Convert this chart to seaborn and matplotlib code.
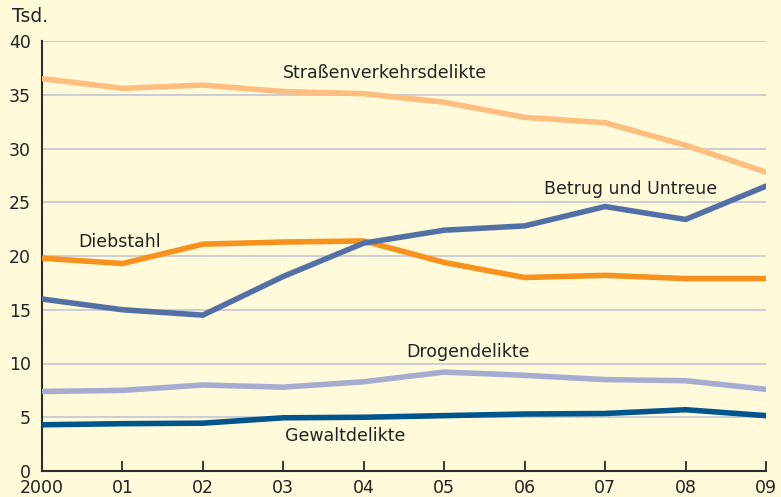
import matplotlib
matplotlib.use("Agg")
import matplotlib.pyplot as plt
import seaborn as sns
import pandas as pd

years = [0, 1, 2, 3, 4, 5, 6, 7, 8, 9]
year_labels = ["2000", "01", "02", "03", "04", "05", "06", "07", "08", "09"]
strassen = [36.5, 35.6, 35.9, 35.3, 35.1, 34.3, 32.9, 32.4, 30.3, 27.8]
betrug = [16.0, 15.0, 14.5, 18.1, 21.2, 22.4, 22.8, 24.6, 23.4, 26.5]
diebstahl = [19.8, 19.3, 21.1, 21.3, 21.4, 19.4, 18.0, 18.2, 17.9, 17.9]
drogen = [7.4, 7.5, 8.0, 7.8, 8.3, 9.2, 8.9, 8.5, 8.4, 7.6]
gewalt = [4.3, 4.4, 4.45, 4.95, 5.0, 5.15, 5.3, 5.35, 5.7, 5.15]

series = {
    "Straßenverkehrsdelikte": strassen,
    "Diebstahl": diebstahl,
    "Betrug und Untreue": betrug,
    "Drogendelikte": drogen,
    "Gewaltdelikte": gewalt,
}
colors = {
    "Straßenverkehrsdelikte": "#FFBE80",
    "Diebstahl": "#F7921E",
    "Betrug und Untreue": "#5270A5",
    "Drogendelikte": "#A6ACCF",
    "Gewaltdelikte": "#00568C",
}

rows = []
for name, vals in series.items():
    for x, v in zip(years, vals):
        rows.append({"year": x, "value": v, "series": name})
df = pd.DataFrame(rows)

sns.set_style("white")
plt.rcParams["font.family"] = ["DejaVu Sans"]
bg = "#FFFBDA"
fig = plt.figure(figsize=(7.81, 4.97), dpi=100, facecolor=bg)
ax = fig.add_axes([42 / 781, 26 / 497, (766 - 42) / 781, (471 - 41) / 497])
ax.set_facecolor(bg)

for y in range(5, 45, 5):
    ax.axhline(y, color="#C3C6D2", lw=1.2, zorder=0)

sns.lineplot(data=df, x="year", y="value", hue="series", palette=colors,
             linewidth=4, legend=False, ax=ax, zorder=3)

ax.set_xlim(0, 9)
ax.set_ylim(0, 40)
ax.set_xticks(years)
ax.set_xticklabels(year_labels)
ax.set_yticks(range(0, 45, 5))
ax.set_xlabel("")
ax.set_ylabel("")
for s in ["top", "right"]:
    ax.spines[s].set_visible(False)
for s in ["left", "bottom"]:
    ax.spines[s].set_color("#2b2b2b")
    ax.spines[s].set_linewidth(1.5)
ax.tick_params(axis="x", direction="in", length=7, width=1.3, color="#2b2b2b",
               labelsize=12.5, labelcolor="#222222", pad=6, bottom=True)
ax.tick_params(axis="y", length=0, labelsize=12.5, labelcolor="#222222", pad=8)

fs = 12.5
ax.text(4.26, 37.0, "Straßenverkehrsdelikte", ha="center", va="center", fontsize=fs, color="#222222")
ax.text(7.32, 26.2, "Betrug und Untreue", ha="center", va="center", fontsize=fs, color="#222222")
ax.text(0.97, 21.3, "Diebstahl", ha="center", va="center", fontsize=fs, color="#222222")
ax.text(5.30, 11.1, "Drogendelikte", ha="center", va="center", fontsize=fs, color="#222222")
ax.text(3.77, 3.25, "Gewaltdelikte", ha="center", va="center", fontsize=fs, color="#222222")
fig.text(12 / 781, 1 - 17 / 497, "Tsd.", ha="left", va="center", fontsize=13.5, color="#222222")

fig.savefig("out.png", dpi=100, facecolor=bg)
